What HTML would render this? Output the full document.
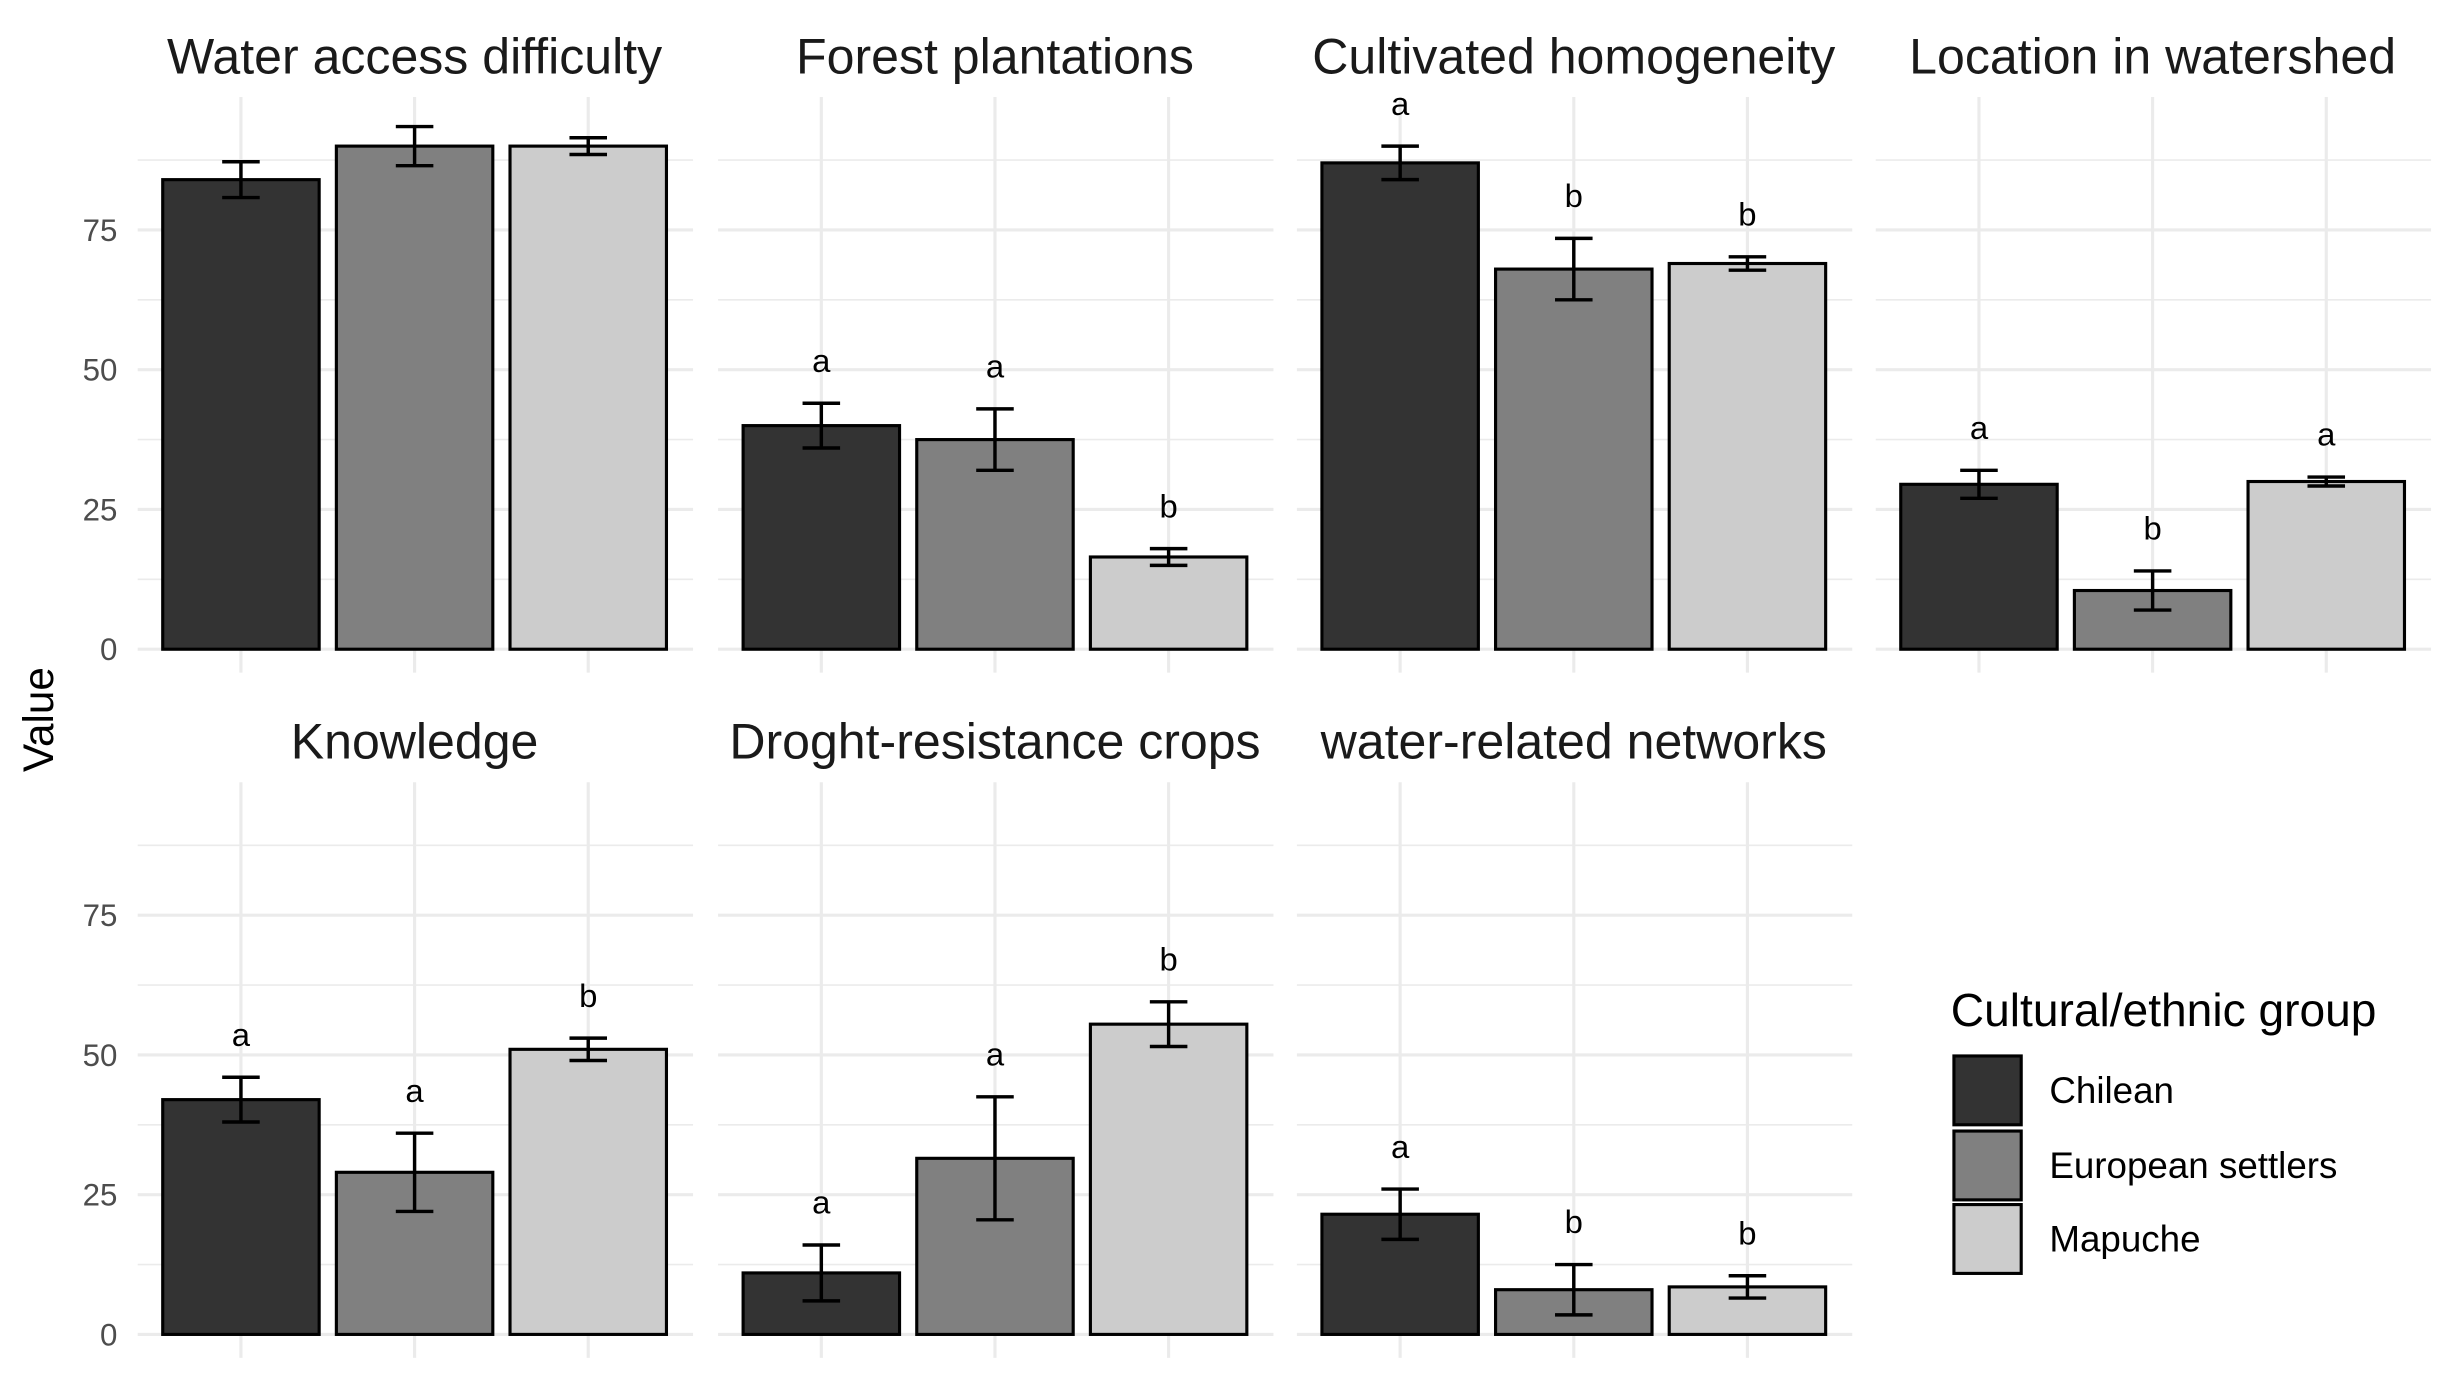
<!DOCTYPE html>
<html><head><meta charset="utf-8"><style>
html,body{margin:0;padding:0;background:#fff;}
svg{display:block;font-family:"Liberation Sans",sans-serif;}
</style></head><body>
<svg id="chart" width="2453" height="1379" viewBox="0 0 1568 881.5" xmlns="http://www.w3.org/2000/svg">
<text x="0" y="0" transform="translate(34,460) rotate(-90)" text-anchor="middle" font-size="27" fill="#000">Value</text>
<g>
<text x="1247" y="656" font-size="29.5" fill="#000">Cultural/ethnic group</text>
<rect x="1249" y="675" width="43" height="44" fill="#333333" stroke="#000" stroke-width="2"/>
<rect x="1249" y="723" width="43" height="44" fill="#808080" stroke="#000" stroke-width="2"/>
<rect x="1249" y="770" width="43" height="44" fill="#cccccc" stroke="#000" stroke-width="2"/>
<text x="1310" y="705" font-size="23.5">Chilean</text>
<text x="1310" y="753" font-size="23.5">European settlers</text>
<text x="1310" y="800" font-size="23.5">Mapuche</text>
</g>
</svg>
<script>
const panelTitles = ["Water access difficulty","Forest plantations","Cultivated homogeneity","Location in watershed","Knowledge","Droght-resistance crops","water-related networks"];
const groups = ["Chilean","European settlers","Mapuche"];
const means = [[84,90,90],[40,37.5,16.5],[87,68,69],[29.5,10.5,30],[42,29,51],[11,31.5,55.5],[21.5,8,8.5]];
const errs = [[3.2,3.5,1.5],[4,5.5,1.5],[3,5.5,1.2],[2.5,3.5,0.8],[4,7,2],[5,11,4],[4.5,4.5,2]];
const letters = [["","",""],["a","a","b"],["a","b","b"],["a","b","a"],["a","a","b"],["a","a","b"],["a","b","b"]];
const yTicks = [0,25,50,75];
const colors = ["#333333","#808080","#cccccc"];

const svg = document.getElementById('chart');
const NS = "http://www.w3.org/2000/svg";
function mk(tag, attrs, parent){const e=document.createElementNS(NS,tag);for(const k in attrs)e.setAttribute(k,attrs[k]);(parent||svg).appendChild(e);return e;}
const panelX0 = [88,459,829,1199];
const zeroY = [415,853];
const pxPerUnit = 268/75;
const topY = [62,500];
const panelW = 355;
function yS(row,v){return zeroY[row]-v*pxPerUnit;}
function xS(col,i){return panelX0[col]+66+i*111;}

panelTitles.forEach((title,p)=>{
  const row = p<4?0:1, col = p%4;
  const g = mk('g',{});
  
  
  const x0 = panelX0[col], bottom = zeroY[row]+15;
  for(let v=12.5; v<100; v+=12.5){
    const y=yS(row,v); if(y<topY[row]) break;
    const l=mk('line',{x1:x0,x2:x0+panelW,y1:y,y2:y,stroke:'#ebebeb','stroke-width':(v%25===0)?2:1},g);
     
  }
  const l0=mk('line',{x1:x0,x2:x0+panelW,y1:yS(row,0),y2:yS(row,0),stroke:'#ebebeb','stroke-width':2},g);
   
  groups.forEach((gr,i)=>{
    const l=mk('line',{x1:xS(col,i),x2:xS(col,i),y1:topY[row],y2:bottom,stroke:'#ebebeb','stroke-width':2},g);
     
  });
  const t=mk('text',{x:x0+177,y:topY[row]-15,'text-anchor':'middle','font-size':32,fill:'#1a1a1a'},g);
  t.textContent=title;
   
  if(col===0){
    yTicks.forEach(v=>{
      const tt=mk('text',{x:75,y:yS(row,v)+7,'text-anchor':'end','font-size':20,fill:'#4d4d4d'});
      tt.textContent=v;
       
    });
  }
  groups.forEach((gr,i)=>{
    const cx=xS(col,i), v=means[p][i], e=errs[p][i];
    const r=mk('rect',{x:cx-50,y:yS(row,v),width:100,height:v*pxPerUnit,fill:colors[i],stroke:'#000','stroke-width':2},g);
    
    
    const eb=mk('path',{d:`M${cx-12},${yS(row,v+e)}H${cx+12}M${cx},${yS(row,v+e)}V${yS(row,v-e)}M${cx-12},${yS(row,v-e)}H${cx+12}`,stroke:'#000','stroke-width':2.2,fill:'none'},g);
     
    if(letters[p][i]){
      const lt=mk('text',{x:cx,y:yS(row,v+e)-20,'text-anchor':'middle','font-size':21,fill:'#000'},g);
      lt.textContent=letters[p][i];
       
    }
  });
});
</script>
</body></html>
